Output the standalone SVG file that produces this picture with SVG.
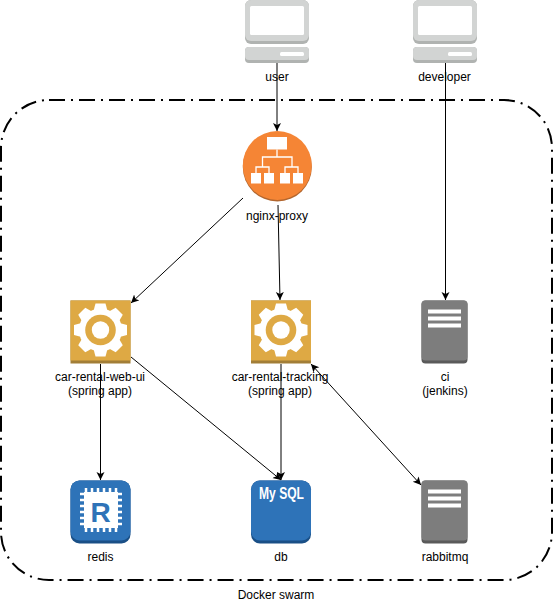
<svg xmlns="http://www.w3.org/2000/svg" width="553" height="603" viewBox="0 0 553 603">
<style>
text{font-family:"Liberation Sans",Arial,sans-serif;font-size:12px;fill:#000;text-anchor:middle}
.c{fill:none;stroke:#000;stroke-width:1;marker-end:url(#a)}
.cb{fill:none;stroke:#000;stroke-width:1;marker-end:url(#a);marker-start:url(#s)}
.w{fill:#fff}
</style>
<defs>
<marker id="a" markerUnits="userSpaceOnUse" markerWidth="10" markerHeight="10" refX="8" refY="4" orient="auto"><path d="M0 0L8 4L0 8L2 4Z" fill="#000"/></marker>
<marker id="s" markerUnits="userSpaceOnUse" markerWidth="10" markerHeight="10" refX="0" refY="4" orient="auto"><path d="M8 0L0 4L8 8L6 4Z" fill="#000"/></marker>
<path id="tooth" d="M-5-26.500H5L7-19H-7Z"/>
<g id="pc">
<rect x="0" y="0" width="64" height="44" rx="6" fill="#b0b3b1"/>
<rect x="0" y="0" width="64" height="41" rx="6" fill="#d2d4d3"/>
<rect x="5" y="6" width="54" height="29" rx="1.500" fill="#fff"/>
<rect x="0" y="47" width="64" height="16" rx="4" fill="#b0b3b1"/>
<rect x="0" y="47" width="64" height="13" rx="4" fill="#d2d4d3"/>
<rect x="35" y="52" width="24" height="4" rx="1.500" fill="#fff"/>
</g>
<g id="gear">
<rect x="0" y="0" width="60" height="63" fill="#a27e37"/>
<rect x="0" y="0" width="60" height="60" fill="#dea944"/>
<g transform="translate(30 29.500)" fill="#fff">
<circle r="21.500"/>
<use href="#tooth"/>
<use href="#tooth" transform="rotate(45)"/>
<use href="#tooth" transform="rotate(90)"/>
<use href="#tooth" transform="rotate(135)"/>
<use href="#tooth" transform="rotate(180)"/>
<use href="#tooth" transform="rotate(225)"/>
<use href="#tooth" transform="rotate(270)"/>
<use href="#tooth" transform="rotate(315)"/>
<circle r="15.300" fill="#dea944"/>
<circle r="8.700"/>
</g>
</g>
<g id="srv">
<rect x="0" y="0" width="46" height="63" rx="4" fill="#5a5a5a"/>
<rect x="0" y="0" width="46" height="60" rx="4" fill="#7d7d7d"/>
<rect x="6.500" y="9" width="33" height="4" fill="#fff"/>
<rect x="6.500" y="16" width="33" height="4" fill="#fff"/>
<rect x="6.500" y="23" width="33" height="4" fill="#fff"/>
</g>
</defs>
<g id="swarm"><rect x="1" y="100" width="551" height="480" rx="48" ry="48" fill="none" stroke="#000" stroke-width="2" stroke-dasharray="16 6 2 6"/>
<text x="276" y="599">Docker swarm</text></g>
<g id="user"><use href="#pc" x="245" y="0"/><text x="277" y="81">user</text></g>
<g id="developer"><use href="#pc" x="413" y="0"/><text x="444.500" y="81">developer</text></g>
<g id="nginx-proxy">
<circle cx="277.300" cy="167" r="34.500" fill="#b2662e"/>
<circle cx="277.300" cy="165.500" r="34.500" fill="#f58535"/>
<rect x="267" y="137" width="20" height="12.500" class="w"/>
<path d="M277 149.500V157M262.500 167V157H292V167M256 173V167H269V173M285 173V167H298V173" fill="none" stroke="#fff" stroke-width="1.300"/>
<rect x="251" y="173" width="10" height="10.500" class="w"/><rect x="264" y="173" width="10" height="10.500" class="w"/><rect x="280" y="173" width="10" height="10.500" class="w"/><rect x="293" y="173" width="10" height="10.500" class="w"/>
<text x="277" y="220">nginx-proxy</text></g>
<g id="car-rental-web-ui"><use href="#gear" x="70.500" y="300.500"/><text x="100" y="381">car-rental-web-ui</text><text x="100" y="395">(spring app)</text></g>
<g id="car-rental-tracking"><use href="#gear" x="251" y="300.500"/><text x="280" y="381">car-rental-tracking</text><text x="280" y="395">(spring app)</text></g>
<g id="ci"><use href="#srv" x="421.500" y="300.500"/><text x="445" y="381">ci</text><text x="445" y="395">(jenkins)</text></g>
<g id="redis">
<rect x="70.500" y="480.500" width="60" height="63" rx="9" fill="#1a4f86"/>
<rect x="70.500" y="480.500" width="60" height="60" rx="9" fill="#2e73b8"/>
<rect x="84" y="492" width="34" height="36" class="w"/>
<path d="M86 488V532M92 488V532M98 488V532M104 488V532M110 488V532M116 488V532" stroke="#fff" stroke-width="2.500" fill="none"/>
<path d="M80 494H122M80 500H122M80 506H122M80 512H122M80 518H122M80 524H122" stroke="#fff" stroke-width="2.500" fill="none"/>
<text x="100.500" y="522" style="font-size:28px;font-weight:bold;fill:#2e73b8">R</text>
<text x="100.500" y="561">redis</text></g>
<g id="db">
<rect x="251" y="480.500" width="60" height="63" rx="9" fill="#1a4f86"/>
<rect x="251" y="480.500" width="60" height="60" rx="9" fill="#2e73b8"/>
<text x="281.500" y="498.500" style="font-size:17px;font-weight:bold;fill:#fff" textLength="45" lengthAdjust="spacingAndGlyphs">My SQL</text>
<text x="281" y="561">db</text></g>
<g id="rabbitmq"><use href="#srv" x="421.500" y="480.500"/><text x="445" y="561">rabbitmq</text></g>
<g id="connectors">
<path class="c" d="M277 63V131"/>
<path class="c" d="M445.500 63V300"/>
<path class="c" d="M243 198L131 303"/>
<path class="c" d="M278 205L280 300"/>
<path class="c" d="M100.500 364V480"/>
<path class="c" d="M131 357L281 480"/>
<path class="c" d="M281 364V480"/>
<path class="cb" d="M311 364L421 485"/>
</g>
</svg>
